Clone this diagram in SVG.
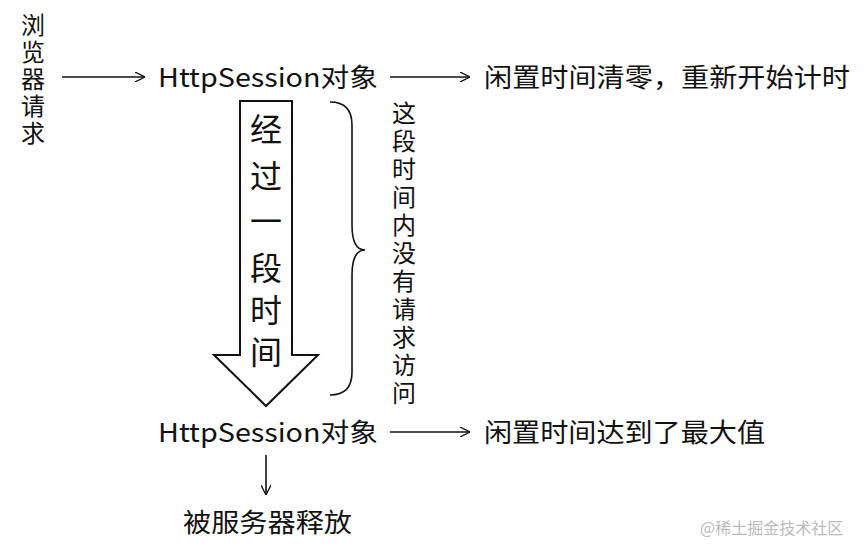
<svg xmlns="http://www.w3.org/2000/svg" width="865" height="546" viewBox="0 0 865 546">
<style>
text{font-family:"Microsoft YaHei","Noto Sans CJK SC",sans-serif;fill:#111}
.t{font-size:26px}
.v{font-size:24px}
.c{stroke:#111;stroke-width:1.6;fill:none}
</style>
<defs><marker id="a" viewBox="0 0 10 10" refX="10" refY="5" markerWidth="10" markerHeight="10" markerUnits="userSpaceOnUse" orient="auto"><path d="M0,0L10,5L0,10" fill="none" stroke="#111" stroke-width="1.3"/></marker></defs>
<rect width="865" height="546" fill="#fff"/>
<g id="req"><text class="v" text-anchor="middle"><tspan x="33" y="34">浏</tspan><tspan x="33" y="61">览</tspan><tspan x="33" y="88">器</tspan><tspan x="33" y="115">请</tspan><tspan x="33" y="142">求</tspan></text></g>
<g id="s1"><text class="t" x="158" y="87" textLength="220" lengthAdjust="spacingAndGlyphs">HttpSession对象</text></g>
<g id="r1"><text class="t" x="484" y="87" textLength="366" lengthAdjust="spacingAndGlyphs">闲置时间清零，重新开始计时</text></g>
<g id="s2"><text class="t" x="158" y="442" textLength="220" lengthAdjust="spacingAndGlyphs">HttpSession对象</text></g>
<g id="r2"><text class="t" x="484" y="442" textLength="281" lengthAdjust="spacingAndGlyphs">闲置时间达到了最大值</text></g>
<g id="rel"><text class="t" x="183" y="532" textLength="169" lengthAdjust="spacingAndGlyphs">被服务器释放</text></g>
<g id="bigarrow"><path d="M240,101H292V355H318L266,406L214,355H240Z" fill="#fff" stroke="#111" stroke-width="2"/>
<text style="font-size:32px" text-anchor="middle"><tspan x="266" y="141">经</tspan><tspan x="266" y="188">过</tspan><tspan x="266" y="233">一</tspan><tspan x="266" y="280">段</tspan><tspan x="266" y="322">时</tspan><tspan x="266" y="364">间</tspan></text></g>
<g id="brace"><path class="c" d="M330,102Q352,102 352,125V225Q352,250 365,250Q352,250 352,275V372Q352,395 330,395"/>
<text class="v" text-anchor="middle"><tspan x="404" y="122">这</tspan><tspan x="404" y="150">段</tspan><tspan x="404" y="178">时</tspan><tspan x="404" y="206">间</tspan><tspan x="404" y="234">内</tspan><tspan x="404" y="262">没</tspan><tspan x="404" y="290">有</tspan><tspan x="404" y="318">请</tspan><tspan x="404" y="346">求</tspan><tspan x="404" y="374">访</tspan><tspan x="404" y="402">问</tspan></text></g>
<g id="connectors">
<line class="c" x1="62" y1="77" x2="145" y2="77" marker-end="url(#a)"/>
<line class="c" x1="390" y1="77" x2="470" y2="77" marker-end="url(#a)"/>
<line class="c" x1="390" y1="432" x2="470" y2="432" marker-end="url(#a)"/>
<line class="c" x1="266" y1="455" x2="266" y2="495" marker-end="url(#a)"/>
</g>
<text x="700" y="534" style="font-size:16px;fill:#bbb">@稀土掘金技术社区</text>
</svg>
